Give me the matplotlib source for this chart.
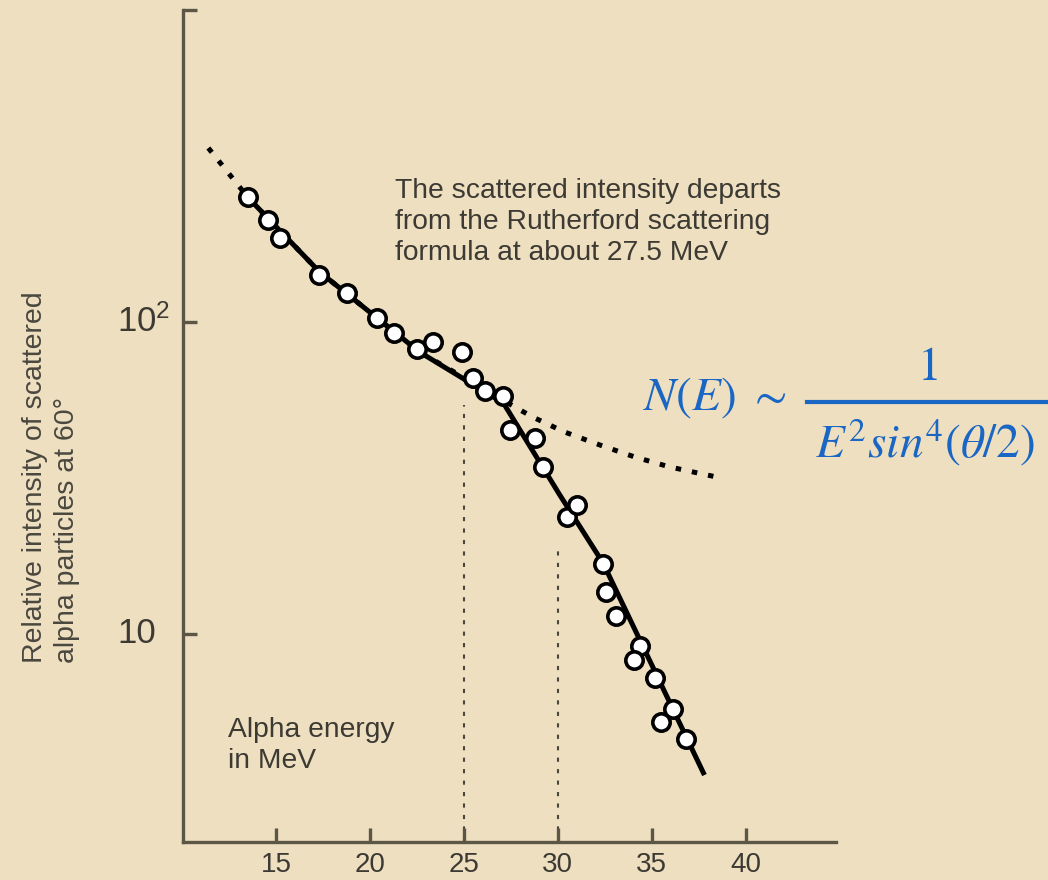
import matplotlib
matplotlib.use('Agg')
import matplotlib.pyplot as plt
from matplotlib.lines import Line2D

energy = [13.5, 14.6, 15.2, 17.3, 18.8, 20.4, 21.3, 22.5, 23.35, 24.9,
          25.5, 26.1, 27.1, 27.45, 28.8, 29.2, 30.5, 31.0, 32.4, 32.55,
          33.1, 34.35, 34.05, 35.15, 36.15, 35.5, 36.8]
intensity = [251, 212, 186, 141, 124, 103, 92, 82, 86, 80,
             66, 60, 58, 45, 42.5, 34.3, 23.7, 25.9, 16.8, 13.6,
             11.4, 9.16, 8.26, 7.23, 5.75, 5.23, 4.60]

# hand-drawn fit through the data
fit_energy = [13.5, 17.3, 22.65, 27.1, 30.1, 32.4, 37.8]
fit_intensity = [251, 145, 80, 55, 27.9, 16.9, 3.53]

# Rutherford prediction (dotted)
ruth_energy = [11.4, 13.5, 17.3, 22.65, 26.05, 27.8, 28.65, 30.35, 32.25, 34.1, 35.95, 38.7]
ruth_intensity = [361, 251, 145, 80, 61, 53, 49.6, 44.4, 40.3, 36.9, 34.3, 31.6]

# vertical guide lines
guide_energy = [25, 30]
guide_top = [54, 18.6]

xticks = [15, 20, 25, 30, 35, 40]
yticks = [10, 100, 1000]
ytick_labels = ['10', r'$\mathregular{10^2}$', '']

bg = '#eddfc0'
axis_col = '#5c5647'
text_col = '#3c3a33'
blue = '#1a66c4'

plt.rcParams['font.family'] = ['Liberation Sans', 'DejaVu Sans']

fig = plt.figure(figsize=(10.48, 8.8), dpi=100)
fig.patch.set_facecolor(bg)
ax = fig.add_axes([0.1746, 0.0432, 0.6231, 0.9455])
ax.set_facecolor(bg)

ax.set_yscale('log')
ax.set_xlim(10.05, 44.8)
ax.set_ylim(2.154, 1000)

for e, top in zip(guide_energy, guide_top):
    ax.plot([e, e], [2.154, top], color='#4a463c', lw=1.5, linestyle=(0, (2, 3.5)), zorder=1)

ax.plot(ruth_energy, ruth_intensity, color='black', lw=3.6, linestyle=(0, (1.1, 2.2)),
        dash_capstyle='butt', zorder=2)
ax.plot(fit_energy, fit_intensity, color='black', lw=3.6, solid_capstyle='butt', zorder=3)
ax.plot(energy, intensity, linestyle='none', marker='o', markersize=12.5,
        markerfacecolor='white', markeredgecolor='black', markeredgewidth=2.6, zorder=4)

for side in ['top', 'right']:
    ax.spines[side].set_visible(False)
for side in ['left', 'bottom']:
    ax.spines[side].set_color(axis_col)
    ax.spines[side].set_linewidth(2.4)

ax.set_xticks(xticks)
ax.set_xticklabels([str(t) for t in xticks])
ax.set_yticks(yticks)
ax.set_yticklabels(['', '', ''])
ax.minorticks_off()
ax.tick_params(axis='both', direction='in', length=10, width=2.4, color=axis_col,
               labelcolor=text_col, labelsize=20)
ax.tick_params(axis='x', pad=7)

ytrans = ax.get_yaxis_transform()
for val, lab in zip(yticks, ytick_labels):
    ax.text(-0.101, val, lab, transform=ytrans, ha='left', va='center',
            fontsize=25, color=text_col)

ax.text(21.33, 209, 'The scattered intensity departs\nfrom the Rutherford scattering\nformula at about 27.5 MeV',
        fontsize=20.3, color=text_col, ha='left', va='center', linespacing=1.25)
ax.text(12.45, 4.38, 'Alpha energy\nin MeV', fontsize=20.3, color=text_col,
        ha='left', va='center', linespacing=1.25)

fig.text(0.0487, 0.4574, 'Relative intensity of scattered\nalpha particles at 60\u00b0',
         rotation=90, ha='center', va='center', multialignment='left',
         fontsize=20.5, color='#4a473f', linespacing=1.33)

# formula
fig.text(643 / 1048, 1 - 398 / 880, r'$N(E)\ \sim$', fontsize=34, color=blue,
         ha='left', va='center', math_fontfamily='stix')
fig.text(927 / 1048, 1 - 368 / 880, r'$1$', fontsize=34, color=blue,
         ha='center', va='center', math_fontfamily='stix')
fig.text(925 / 1048, 1 - 442 / 880, r'$E^2 sin^4(\theta/2)$', fontsize=34, color=blue,
         ha='center', va='center', math_fontfamily='stix')
fig.add_artist(Line2D([807 / 1048, 1.0], [1 - 402 / 880] * 2, transform=fig.transFigure,
                      color=blue, lw=3))

fig.savefig('out.png', dpi=100, facecolor=bg)
